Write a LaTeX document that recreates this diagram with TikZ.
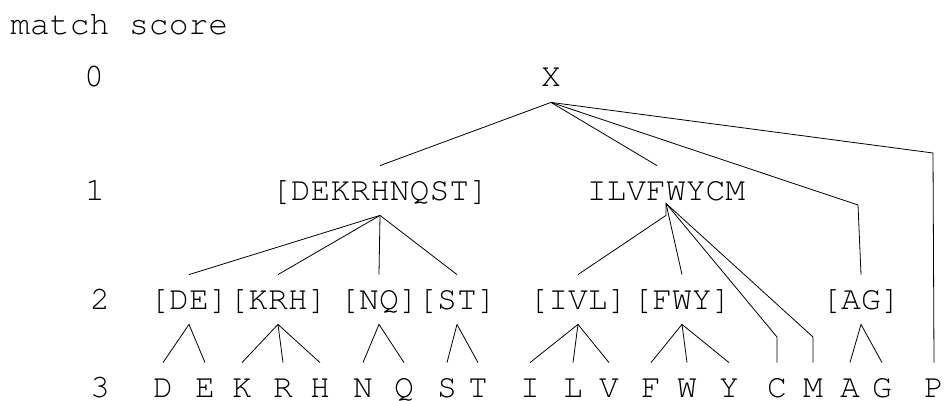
\documentclass[tikz,border=0pt]{standalone}
\usepackage[T1]{fontenc}
\begin{document}
\begin{tikzpicture}[x=1pt,y=-1pt,line width=0.8pt]
  \def\ra{77.5}
  \def\rb{190.5}
  \def\rc{299.5}
  \def\rd{380}

\tikzstyle{aa}=[font=\fontfamily{pcr}\fontsize{33}{33}\selectfont,text height=19pt,text depth=0pt,inner xsep=0pt,inner ysep=15pt]
\tikzstyle{leaf}=[aa,text height=34pt,inner ysep=0pt]
\tikzstyle{score}=[aa,inner ysep=0pt]
\useasboundingbox (0,0) rectangle (945,401);
% score column
\node[aa][anchor=base west,inner sep=0pt] (title) at (10,35) {match score};
\node[score][] (S0) at (94,\ra) {0};
\node[score][] (S1) at (95,\rb) {1};
\node[score][] (S2) at (100,\rc) {2};
\node[leaf][] (S3) at (100,\rd) {3};
% level 0 and 1
\node[aa][] (X) at (551,\ra) {X};
\node[aa][] (G1) at (380,\rb) {[DEKRHNQST]};
\draw (X.south) -- (G1.north);
\node[aa][] (G2) at (666,\rb) {ILVFWYCM};
\draw (X.south) -- ([xshift=-9pt]G2.north);
\coordinate (J2) at ([yshift=12pt]G2.south);
% level 2
\node[aa][] (DE) at (189,\rc) {[DE]};
\draw (G1.south) -- (DE.north);
\node[aa][] (KRH) at (278,\rc) {[KRH]};
\draw (G1.south) -- (KRH.north);
\node[aa][] (NQ) at (379,\rc) {[NQ]};
\draw (G1.south) -- (NQ.north);
\node[aa][] (ST) at (457,\rc) {[ST]};
\draw (G1.south) -- (ST.north);
\node[aa][] (IVL) at (578,\rc) {[IVL]};
\draw (J2) -- (G2.south) -- (IVL.north);
\node[aa][] (FWY) at (682,\rc) {[FWY]};
\draw (J2) -- (FWY.north);
\node[aa][] (AG) at (861,\rc) {[AG]};
\coordinate (bAG) at (858,205);
\draw (X.south) -- (bAG) -- (AG.north);
% level 3
\node[leaf][] (D) at (163,\rd) {D};
\draw (DE.south) -- (D.north);
\node[leaf][] (E) at (205,\rd) {E};
\draw (DE.south) -- (E.north);
\node[leaf][] (K) at (242,\rd) {K};
\draw (KRH.south) -- (K.north);
\node[leaf][] (R) at (283,\rd) {R};
\draw (KRH.south) -- (R.north);
\node[leaf][] (H) at (320,\rd) {H};
\draw (KRH.south) -- (H.north);
\node[leaf][] (N) at (363,\rd) {N};
\draw (NQ.south) -- (N.north);
\node[leaf][] (Q) at (404,\rd) {Q};
\draw (NQ.south) -- (Q.north);
\node[leaf][] (S) at (447,\rd) {S};
\draw (ST.south) -- (S.north);
\node[leaf][] (T) at (478,\rd) {T};
\draw (ST.south) -- (T.north);
\node[leaf][] (I) at (530,\rd) {I};
\draw (IVL.south) -- (I.north);
\node[leaf][] (L) at (573,\rd) {L};
\draw (IVL.south) -- (L.north);
\node[leaf][] (V) at (609,\rd) {V};
\draw (IVL.south) -- (V.north);
\node[leaf][] (F) at (651,\rd) {F};
\draw (FWY.south) -- (F.north);
\node[leaf][] (W) at (687,\rd) {W};
\draw (FWY.south) -- (W.north);
\node[leaf][] (Y) at (729,\rd) {Y};
\draw (FWY.south) -- (Y.north);
\node[leaf][] (C) at (777,\rd) {C};
\coordinate (bC) at (777,337);
\draw (J2) -- (bC) -- (C.north);
\node[leaf][] (M) at (813,\rd) {M};
\coordinate (bM) at (813,337);
\draw (J2) -- (bM) -- (M.north);
\node[leaf][] (A) at (850,\rd) {A};
\draw (AG.south) -- (A.north);
\node[leaf][] (G) at (882,\rd) {G};
\draw (AG.south) -- (G.north);
\node[leaf][] (P) at (934,\rd) {P};
\coordinate (bP) at (933,153);
\draw (X.south) -- (bP) -- (P.north);
\end{tikzpicture}
\end{document}
